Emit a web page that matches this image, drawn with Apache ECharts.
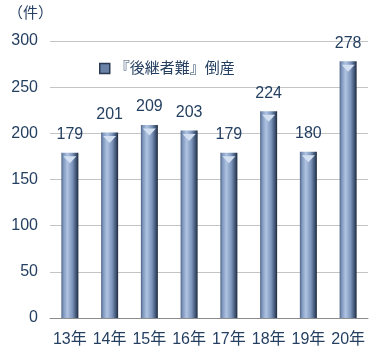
<!DOCTYPE html>
<html><head><meta charset="utf-8">
<script src="https://cdn.jsdelivr.net/npm/echarts@6/dist/echarts.min.js"></script>
<style>html,body{margin:0;padding:0;background:#fff}#c{width:384px;height:358px}</style>
</head><body><div id="c"></div>
<script>
const categories = ['13年','14年','15年','16年','17年','18年','19年','20年'];
const values = [179, 201, 209, 203, 179, 224, 180, 278];
const seriesName = '『後継者難』倒産';
const yTicks = [0, 50, 100, 150, 200, 250, 300];
const unitLabel = '（件）';

const FONT = '"Liberation Sans", "Noto Sans CJK JP", sans-serif';
const TXT = '#243f60';
const barGrad = new echarts.graphic.LinearGradient(0, 0, 1, 0, [
  {offset: 0, color: '#4c6384'},
  {offset: 0.12, color: '#7f97bd'},
  {offset: 0.35, color: '#b0c4e2'},
  {offset: 0.65, color: '#7d95bb'},
  {offset: 0.88, color: '#3d5170'},
  {offset: 1, color: '#1e2a3c'}
]);
const chart = echarts.init(document.getElementById('c'));
chart.setOption({
  animation: false,
  graphic: [{type:'text', left: 8, top: 6, style:{text: unitLabel, fill: TXT, font: '15px ' + FONT}}],
  legend: {
    left: 94, top: 56, itemWidth: 10, itemHeight: 10, icon: 'rect',
    textStyle: {color: TXT, fontSize: 15, fontFamily: FONT},
    itemGap: 2, data: [{name: seriesName, itemStyle: {color: '#6a82a8', borderColor: '#2a3a52', borderWidth: 1.5}}]
  },
  grid: {left: 50, right: 16, top: 41, bottom: 40},
  xAxis: {
    type: 'category', data: categories,
    axisLine: {lineStyle: {color: '#8c8c8c'}},
    axisTick: {length: 5, lineStyle: {color: '#8c8c8c'}},
    axisLabel: {color: TXT, fontSize: 16, fontFamily: FONT, margin: 14, interval: 0}
  },
  yAxis: {
    type: 'value', min: yTicks[0], max: yTicks[yTicks.length-1], interval: 50,
    axisLine: {show: false}, axisTick: {show: false},
    splitLine: {lineStyle: {color: '#c4c4c4'}},
    axisLabel: {color: TXT, fontSize: 16, fontFamily: FONT, margin: 12}
  },
  series: [{
    name: seriesName, type: 'bar', data: values, barWidth: 17, barGap: '-100%',
    itemStyle: {color: barGrad},
    label: {show: true, position: 'top', distance: 10, color: TXT, fontSize: 16, fontFamily: FONT}
  }, {
    name: 'bevel', type: 'pictorialBar', data: values, symbol: 'triangle', symbolRotate: 180,
    symbolSize: [13, 7], symbolPosition: 'end', symbolOffset: [0, '50%'],
    itemStyle: {color: '#d3e0f1'}, silent: true, z: 3
  }]
});
</script></body></html>
